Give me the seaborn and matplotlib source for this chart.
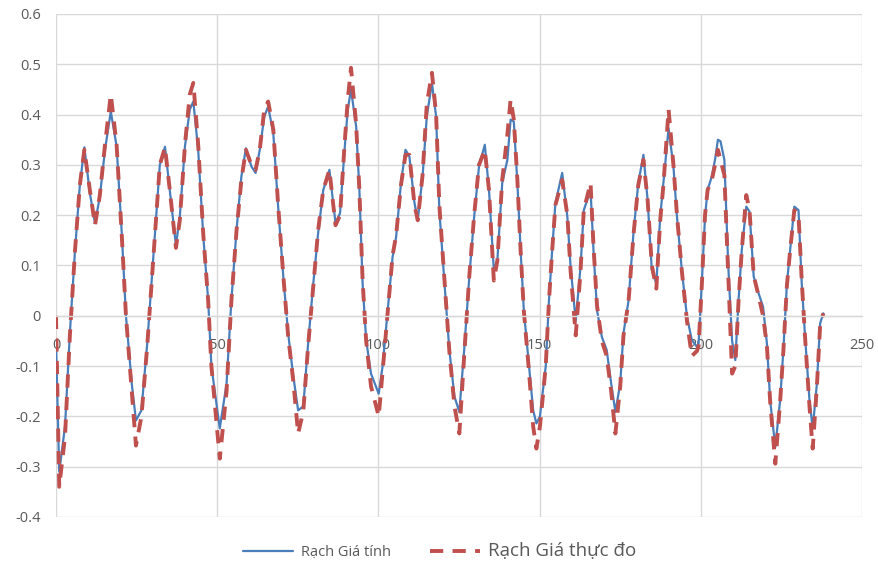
import numpy as np
import pandas as pd
import matplotlib
matplotlib.use("Agg")
import matplotlib.pyplot as plt
import seaborn as sns

# time (hours) and water levels
hours = [
    0.0, 1.0, 2.8, 4.3, 5.9, 7.4, 8.8, 10.5, 12.1, 13.6, 15.2, 17.0, 18.8, 20.4, 21.7,
    23.5, 24.8, 26.5, 28.3, 29.6, 31.2, 32.2, 33.8, 35.3, 37.2, 38.4, 40.0, 41.5, 42.6,
    44.1, 45.7, 47.2, 48.2, 50.8, 52.9, 54.4, 56.0, 57.5, 58.9, 60.6, 61.9, 63.2, 64.6,
    65.8, 67.4, 68.9, 70.5, 72.0, 73.6, 75.1, 76.7, 78.2, 79.8, 81.3, 82.9, 84.8, 86.7,
    88.1, 89.5, 90.5, 91.5, 93.1, 94.1, 95.1, 96.2, 97.7, 100.1, 101.3, 102.9, 104.4,
    105.5, 107.0, 108.4, 109.6, 111.2, 112.2, 113.7, 115.0, 116.6, 117.9, 118.9, 120.5,
    122.0, 123.6, 125.1, 126.6, 128.2, 129.7, 131.2, 133.0, 134.3, 135.8, 136.9, 138.4,
    140.0, 141.0, 142.0, 143.1, 144.1, 145.1, 146.7, 148.0, 149.0, 150.1, 151.9, 152.9,
    153.9, 154.9, 157.0, 158.6, 159.6, 161.2, 162.7, 163.7, 165.8, 166.7, 167.8, 169.3,
    170.8, 172.2, 173.5, 175.0, 176.0, 177.6, 179.1, 180.6, 182.2, 183.5, 184.8, 186.2,
    187.4, 188.4, 190.0, 191.5, 192.6, 194.1, 195.7, 197.2, 198.8, 199.3, 200.3, 201.3,
    202.1, 203.4, 204.4, 205.3, 206.1, 207.3, 208.5, 209.7, 210.7, 211.7, 212.7, 214.1,
    215.1, 216.4, 217.9, 219.3, 220.5, 221.5, 223.1, 224.6, 225.6, 226.7, 227.7, 229.0,
    230.3, 231.3, 232.4, 233.7, 234.7, 236.0, 237.0, 238.0,
]

tinh = [
    -0.05, -0.31, -0.22, -0.035, 0.13, 0.26, 0.335, 0.244, 0.184, 0.237, 0.33, 0.406, 0.337, 0.164, 0.0,
    -0.135, -0.208, -0.188, -0.055, 0.064, 0.21, 0.30, 0.336, 0.25, 0.14, 0.197, 0.337, 0.41, 0.426,
    0.33, 0.157, 0.031, -0.10, -0.224, -0.135, 0.031, 0.171, 0.277, 0.333, 0.297, 0.284, 0.33, 0.396,
    0.416, 0.363, 0.217, 0.078, -0.035, -0.12, -0.188, -0.18, -0.055, 0.064, 0.164, 0.25, 0.29, 0.184,
    0.204, 0.33, 0.41, 0.45, 0.376, 0.25, 0.064, -0.048, -0.115, -0.155, -0.10, 0.011, 0.117,
    0.157, 0.264, 0.33, 0.317, 0.224, 0.19, 0.277, 0.396, 0.463, 0.396, 0.21, 0.064,
    -0.068, -0.161, -0.191, -0.068, 0.078, 0.197, 0.297, 0.34, 0.25, 0.091, 0.111, 0.264,
    0.31, 0.39, 0.386, 0.264, 0.131, 0.011, -0.10, -0.188, -0.214, -0.20, -0.10, 0.031,
    0.131, 0.224, 0.284, 0.197, 0.098, -0.01, 0.098, 0.21, 0.25, 0.131, 0.011, -0.042,
    -0.068, -0.135, -0.191, -0.135, -0.035, 0.031, 0.164, 0.264, 0.32, 0.23, 0.091, 0.064,
    0.197, 0.264, 0.373, 0.297, 0.197, 0.091, -0.002, -0.048, -0.062, -0.055, 0.064, 0.197,
    0.25, 0.277, 0.31, 0.35, 0.347, 0.31, 0.10, -0.05, -0.088, 0.031, 0.131, 0.217,
    0.207, 0.078, 0.045, 0.018, -0.055, -0.168, -0.261, -0.168, -0.068, 0.064, 0.131, 0.217,
    0.21, 0.064, -0.048, -0.168, -0.224, -0.135, -0.015, 0.005,
]

thuc_do = [
    0.0, -0.34, -0.24, -0.04, 0.13, 0.26, 0.33, 0.25, 0.18, 0.24, 0.34, 0.44, 0.34, 0.16, 0.0,
    -0.15, -0.258, -0.20, -0.06, 0.06, 0.21, 0.30, 0.335, 0.25, 0.135, 0.19, 0.34, 0.44, 0.463,
    0.34, 0.16, 0.03, -0.10, -0.284, -0.15, 0.03, 0.17, 0.27, 0.33, 0.30, 0.29, 0.33, 0.41,
    0.426, 0.37, 0.22, 0.08, -0.04, -0.13, -0.234, -0.19, -0.06, 0.06, 0.17, 0.25, 0.29, 0.18,
    0.20, 0.34, 0.43, 0.493, 0.38, 0.25, 0.07, -0.05, -0.14, -0.20, -0.11, 0.01, 0.12,
    0.16, 0.26, 0.32, 0.32, 0.22, 0.19, 0.28, 0.42, 0.483, 0.40, 0.22, 0.07,
    -0.07, -0.18, -0.234, -0.08, 0.08, 0.20, 0.30, 0.33, 0.25, 0.07, 0.11, 0.27,
    0.36, 0.43, 0.39, 0.27, 0.13, 0.01, -0.11, -0.22, -0.264, -0.22, -0.10, 0.03,
    0.13, 0.22, 0.27, 0.20, 0.09, -0.039, 0.09, 0.21, 0.264, 0.14, 0.02, -0.05,
    -0.08, -0.15, -0.234, -0.14, -0.04, 0.03, 0.16, 0.26, 0.31, 0.23, 0.10, 0.054,
    0.19, 0.26, 0.41, 0.30, 0.20, 0.09, -0.01, -0.08, -0.07, -0.06, 0.06, 0.20,
    0.25, 0.27, 0.30, 0.33, 0.31, 0.28, 0.08, -0.115, -0.10, 0.03, 0.13, 0.24,
    0.21, 0.08, 0.04, 0.00, -0.06, -0.17, -0.294, -0.17, -0.07, 0.06, 0.13, 0.21,
    0.20, 0.07, -0.05, -0.18, -0.264, -0.14, -0.02, 0.005,
]

y_ticks = [-0.4, -0.3, -0.2, -0.1, 0, 0.1, 0.2, 0.3, 0.4, 0.5, 0.6]
x_ticks = [0, 50, 100, 150, 200, 250]

df = pd.DataFrame({"gio": hours, "tinh": tinh, "thuc_do": thuc_do})

sns.set_style("white")
plt.rcParams["font.family"] = ["Open Sans", "DejaVu Sans"]
plt.rcParams["axes.unicode_minus"] = False

fig = plt.figure(figsize=(8.79, 5.66), dpi=100)
ax = fig.add_axes([0.0637, 0.0866, 0.917, 0.8887])

sns.lineplot(data=df, x="gio", y="tinh", ax=ax, color="#4A7EBB", linewidth=1.6,
             label="Rạch Giá tính")
sns.lineplot(data=df, x="gio", y="thuc_do", ax=ax, color="#C0504D", linewidth=2.8,
             dashes=False, label="Rạch Giá thực đo")
ax.lines[1].set_dashes((3.4, 2.4))

grid_c = "#D9D9D9"
ax.set_xlim(0, 250)
ax.set_ylim(-0.4, 0.6)
ax.set_yticks(y_ticks)
ax.set_yticklabels([f"{v:g}" for v in y_ticks])
ax.set_xticks(x_ticks)
ax.grid(True, color=grid_c, linewidth=1.0)
ax.set_axisbelow(True)
for s in ["top", "right", "left"]:
    ax.spines[s].set_visible(False)
ax.spines["bottom"].set_position(("data", 0))
ax.spines["bottom"].set_color(grid_c)
ax.spines["bottom"].set_linewidth(1.0)
ax.tick_params(axis="both", length=0, labelsize=10.5, colors="#595959")
ax.tick_params(axis="x", pad=16)
ax.tick_params(axis="y", pad=11)
ax.set_xlabel("")
ax.set_ylabel("")

ax.get_legend().remove()
h, l = ax.get_legend_handles_labels()
leg = fig.legend(h, l, loc="lower center", bbox_to_anchor=(0.5, -0.012), ncol=2,
                 frameon=False, handlelength=3.6, columnspacing=2.8, handletextpad=0.6)
leg.get_texts()[0].set_fontsize(10.5)
leg.get_texts()[1].set_fontsize(13.5)
for t in leg.get_texts():
    t.set_color("#595959")

plt.savefig("out.png", dpi=100)
plt.close()
